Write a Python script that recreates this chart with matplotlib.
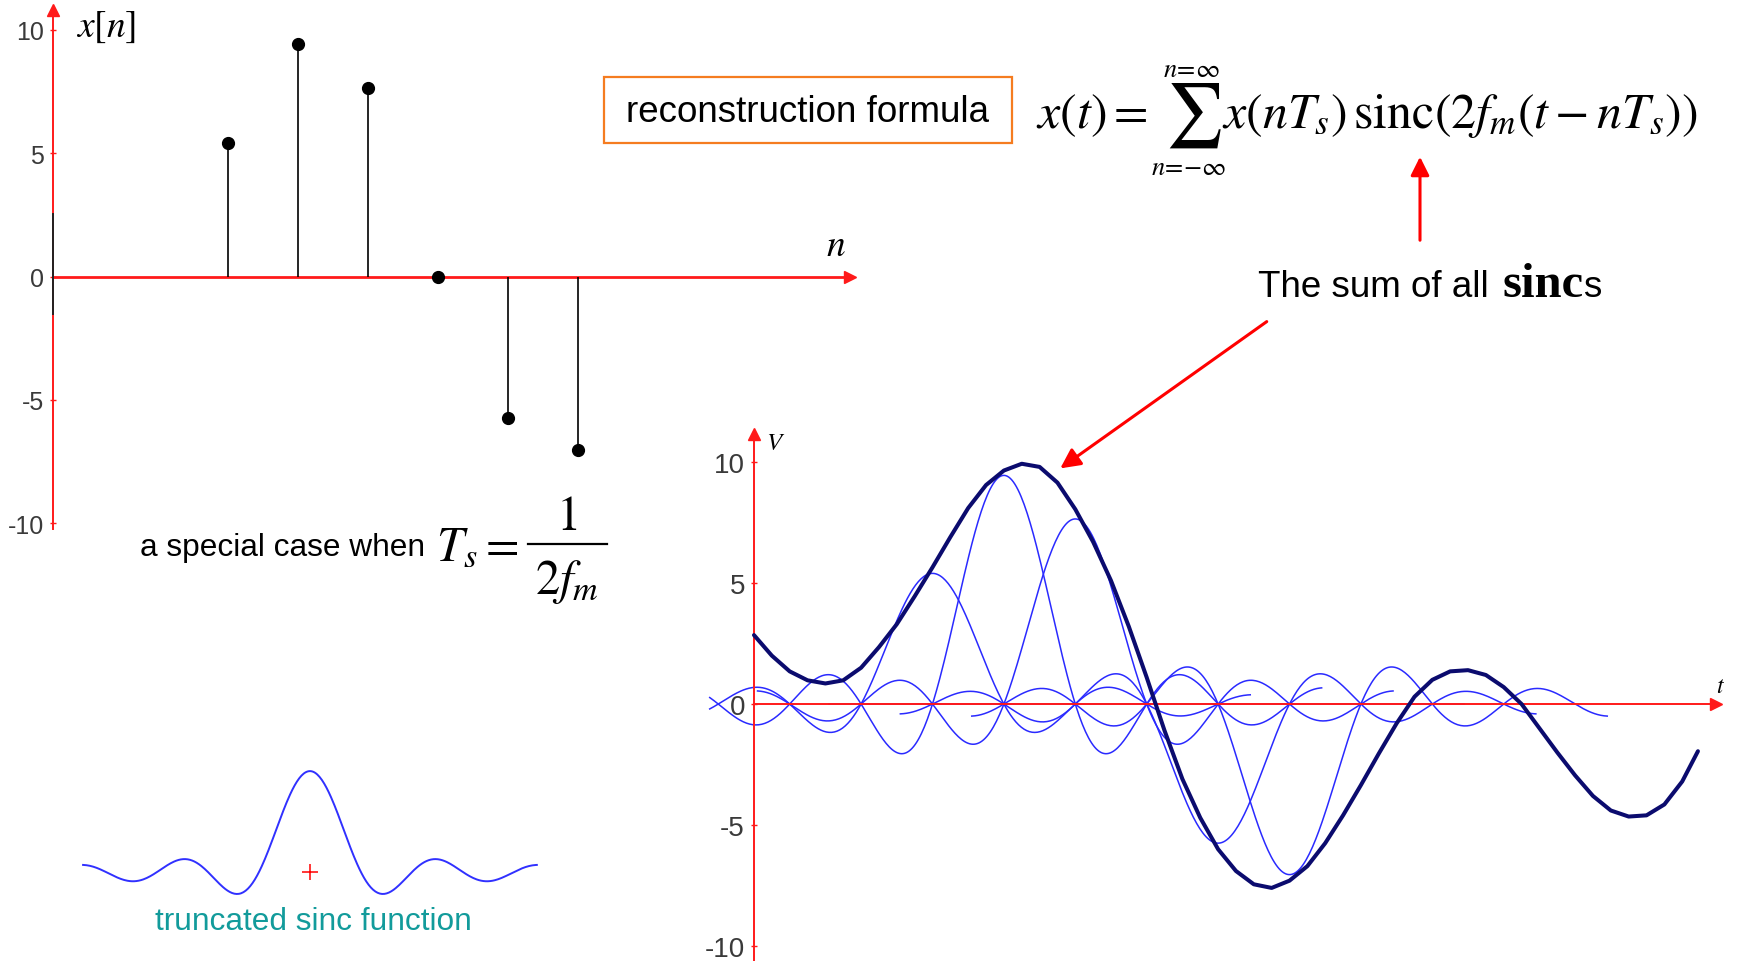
import numpy as np
import matplotlib
matplotlib.use("Agg")
import matplotlib.pyplot as plt
import matplotlib.transforms as mtransforms
from matplotlib.patches import Rectangle

plt.rcParams['mathtext.fontset'] = 'stix'
plt.rcParams['font.family'] = ['Liberation Sans', 'DejaVu Sans']
plt.rcParams['axes.unicode_minus'] = False

# discrete samples x[n]
n_idx = [-3, -2, -1, 0, 1, 2]
x_n = [5.4, 9.45, 7.65, 0.0, -5.75, -7.05]

# same samples placed on the continuous time axis (units of Ts)
t_samples = [2.5, 3.5, 4.5, 5.5, 6.5, 7.5]

# original continuous signal, read every quarter sample
t_orig = [0.0, 0.25, 0.5, 0.75, 1.0, 1.25, 1.5, 1.75, 2.0, 2.25, 2.5, 2.75,
          3.0, 3.25, 3.5, 3.75, 4.0, 4.25, 4.5, 4.75, 5.0, 5.25, 5.5, 5.75,
          6.0, 6.25, 6.5, 6.75, 7.0, 7.25, 7.5, 7.75, 8.0, 8.25, 8.5, 8.75,
          9.0, 9.25, 9.5, 9.75, 10.0, 10.25, 10.5, 10.75, 11.0, 11.25, 11.5,
          11.75, 12.0, 12.25, 12.5, 12.75, 13.0, 13.22]
v_orig = [2.85, 2.00, 1.35, 0.98, 0.85, 0.98, 1.50, 2.35, 3.30, 4.45, 5.65, 6.90,
          8.10, 9.05, 9.65, 9.93, 9.80, 9.15, 8.05, 6.70, 5.10, 3.20, 1.10, -1.10,
          -3.10, -4.70, -6.00, -6.90, -7.45, -7.60, -7.30, -6.70, -5.75, -4.60, -3.35, -2.05,
          -0.80, 0.30, 1.00, 1.35, 1.40, 1.20, 0.70, 0.00, -1.00, -2.00, -2.95,
          -3.80, -4.40, -4.65, -4.60, -4.15, -3.20, -1.95]

value_ticks = [-10, -5, 0, 5, 10]
sinc_half_width = 4.45   # each sinc is cut off after this many samples
plot_t_start = -0.62     # sincs are drawn from here on

W, H = 1738, 962
fig = plt.figure(figsize=(W / 100, H / 100), dpi=100)

tick_font = ['Liberation Sans Narrow', 'Liberation Sans', 'DejaVu Sans']
RED = '#ff1a1a'


def px_axes(x0, y0, x1, y1):
    return fig.add_axes([x0 / W, 1 - y1 / H, (x1 - x0) / W, (y1 - y0) / H])


def red_axes(ax, xaxis_at, lw_x, lw_y, labelsize):
    for side in ('top', 'right'):
        ax.spines[side].set_visible(False)
    ax.spines['bottom'].set_position(('data', 0))
    ax.spines['bottom'].set_color(RED)
    ax.spines['bottom'].set_linewidth(lw_x)
    ax.spines['left'].set_position(('data', xaxis_at))
    ax.spines['left'].set_color(RED)
    ax.spines['left'].set_linewidth(lw_y)
    ax.patch.set_alpha(0)
    ax.set_xticks([])
    ax.set_yticks(value_ticks)
    ax.tick_params(axis='y', colors=RED, labelcolor='#3a3a3a', direction='inout',
                   length=5, width=1, labelsize=labelsize, pad=4,
                   labelfontfamily=tick_font)
    # arrow heads at the ends of both axes
    top = mtransforms.blended_transform_factory(ax.transData, ax.transAxes)
    right = mtransforms.blended_transform_factory(ax.transAxes, ax.transData)
    ax.plot([xaxis_at], [1], marker='^', color=RED, ms=8, transform=top, clip_on=False)
    ax.plot([1], [0], marker='>', color=RED, ms=8, transform=right, clip_on=False)


# --- stem plot of x[n] ---
ax1 = px_axes(53, 11, 850, 530)
ax1.set_xlim(-5.5, 5.886)
ax1.set_ylim(-10.24, 10.81)
red_axes(ax1, -5.5, 2.0, 1.4, 18)
ax1.vlines(n_idx, 0, x_n, color='black', lw=1.2, zorder=3)
ax1.plot(n_idx, x_n, 'o', color='black', ms=8.5, zorder=4)
ax1.plot([-5.5, -5.5], [2.55, -1.5], color='#222222', lw=1.4, clip_on=False, zorder=3)

# --- sincs and their sum ---
ax2 = px_axes(705, 435, 1716, 962)
ax2.set_xlim(-0.686, 13.473)
ax2.set_ylim(-10.62, 11.16)
red_axes(ax2, 0, 1.4, 1.4, 20)
ax2.spines['bottom'].set_bounds(0, 13.473)
for tc, amp in zip(t_samples, x_n):
    tt = np.linspace(max(tc - sinc_half_width, plot_t_start), tc + sinc_half_width, 400)
    ax2.plot(tt, amp * np.sinc(tt - tc), color='#2a2aff', lw=1.1, zorder=2)
ax2.plot(t_orig, v_orig, color='#0b0b6e', lw=2.9, zorder=3, solid_capstyle='round')

# --- single truncated sinc ---
ax3 = px_axes(80, 760, 545, 900)
ax3.set_xlim(-4.51, 4.61)
ax3.set_ylim(-0.267, 1.12)
ax3.axis('off')
ts = np.linspace(-sinc_half_width, sinc_half_width, 400)
ax3.plot(ts, np.sinc(ts), color='#3030ff', lw=1.4)
ax3.plot([0], [0], '+', color='red', ms=11, mew=1.1)

# --- annotations in pixel coordinates ---
ov = fig.add_axes([0, 0, 1, 1])
ov.set_xlim(0, W)
ov.set_ylim(H, 0)
ov.axis('off')

ov.text(76, 27, r'$x[n]$', fontsize=27, ha='left', va='center')
ov.text(836, 246, r'$n$', fontsize=27, ha='center', va='center')
ov.text(776, 443, r'$V$', fontsize=18, ha='center', va='center')
ov.text(1720, 687, r'$t$', fontsize=17, ha='center', va='center')

# reconstruction formula
ov.add_patch(Rectangle((604, 78), 408, 66, fill=False, ec='#f57c20', lw=1.6))
ov.text(808, 112, 'reconstruction formula', fontsize=26.5, ha='center', va='center')
ov.text(1036, 128, r'$x(t)=$', fontsize=36, ha='left', va='baseline')
ov.text(1193, 116, r'$\sum$', fontsize=46, ha='center', va='center')
ov.text(1192, 70, r'$n\!=\!\infty$', fontsize=19, ha='center', va='center')
ov.text(1189, 168, r'$n\!=\!{-}\infty$', fontsize=19, ha='center', va='center')
ov.text(1222, 128, r'$x(nT_s)\,\mathrm{sinc}(2f_m(t-nT_s))$', fontsize=36,
        ha='left', va='baseline')

ov.annotate('', xy=(1420, 155), xytext=(1420, 244),
            arrowprops=dict(arrowstyle='-|>', color='red', lw=2.2, mutation_scale=28))
ov.text(1258, 297, 'The sum of all', fontsize=26.5, ha='left', va='baseline')
ov.text(1502, 297, 'sinc', fontsize=35, fontweight='bold', family='Liberation Serif',
        ha='left', va='baseline')
ov.text(1583, 297, 's', fontsize=26.5, ha='left', va='baseline')
ov.annotate('', xy=(1058, 471), xytext=(1269, 321),
            arrowprops=dict(arrowstyle='-|>', color='red', lw=2.2, mutation_scale=30))

# special case Ts = 1 / (2 fm)
ov.text(140, 548, 'a special case when', fontsize=22.8, ha='left', va='center')
ov.text(436, 560, r'$T_s=$', fontsize=35, ha='left', va='baseline')
ov.plot([528, 607], [545, 545], color='black', lw=1.6)
ov.text(567, 530, r'$1$', fontsize=35, ha='center', va='baseline')
ov.text(567, 594, r'$2f_m$', fontsize=35, ha='center', va='baseline')

ov.text(313, 922, 'truncated sinc function', fontsize=22.8, color='#129b9b',
        ha='center', va='center')

fig.savefig('out.png', dpi=100)
